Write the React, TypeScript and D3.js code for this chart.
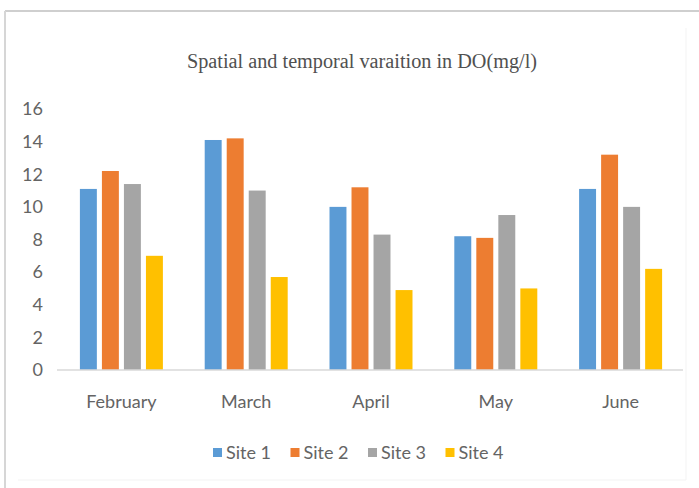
import React from "react";
import * as d3 from "d3";

// Dissolved oxygen (mg/l) per month and sampling site
const months = ["February", "March", "April", "May", "June"];
const sites = ["Site 1", "Site 2", "Site 3", "Site 4"];
const site1 = [11.1, 14.1, 10.0, 8.2, 11.1];
const site2 = [12.2, 14.2, 11.2, 8.1, 13.2];
const site3 = [11.4, 11.0, 8.3, 9.5, 10.0];
const site4 = [7.0, 5.7, 4.9, 5.0, 6.2];
const yTicks = [0, 2, 4, 6, 8, 10, 12, 14, 16];
const siteColors = ["#5B9BD5", "#ED7D31", "#A5A5A5", "#FFC000"];

const W = 699;
const H = 488;
const plot = { left: 59, right: 683, top: 109, bottom: 370 };
const labelFont = "Lato, 'Open Sans', sans-serif";

export default function App() {
  const series = [site1, site2, site3, site4];

  const x0 = d3
    .scaleBand<string>()
    .domain(months)
    .range([plot.left, plot.right])
    .paddingInner(0.335)
    .paddingOuter(0.1675);

  const x1 = d3
    .scaleBand<string>()
    .domain(sites)
    .range([0, x0.bandwidth()])
    .paddingInner(0.23)
    .paddingOuter(0);

  const y = d3.scaleLinear().domain([0, 16]).range([plot.bottom, plot.top]);

  const legendStart = 213;
  const legendStep = 77.5;

  return (
    <svg
      width={W}
      height={H}
      style={{ position: "absolute", left: 0, top: 0, background: "#fff" }}
    >
      {/* chart frame */}
      <line x1={5} y1={11} x2={W} y2={11} stroke="#cfcfcf" strokeWidth={2} />
      <line x1={5} y1={11} x2={5} y2={H} stroke="#d6d6d6" strokeWidth={2} />
      <line x1={686} y1={28} x2={686} y2={480} stroke="#f3f3f3" strokeWidth={1} />
      <line x1={18} y1={480} x2={686} y2={480} stroke="#f3f3f3" strokeWidth={1} />

      {/* title */}
      <text
        x={362}
        y={68}
        textAnchor="middle"
        fontFamily="'Liberation Serif', 'DejaVu Serif', serif"
        fontSize={20}
        fill="#505050"
        textLength={350}
        lengthAdjust="spacingAndGlyphs"
      >
        Spatial and temporal varaition in DO(mg/l)
      </text>

      {/* y axis labels */}
      {yTicks.map((t) => (
        <text
          key={t}
          x={43}
          y={y(t)}
          dy="0.35em"
          textAnchor="end"
          fontFamily={labelFont}
          fontSize={18}
          fill="#646464"
        >
          {t}
        </text>
      ))}

      {/* bars */}
      {months.map((m, i) => (
        <g key={m} transform={`translate(${x0(m)},0)`}>
          {sites.map((s, j) => (
            <rect
              key={s}
              x={x1(s)}
              y={y(series[j][i])}
              width={x1.bandwidth()}
              height={y(0) - y(series[j][i])}
              fill={siteColors[j]}
            />
          ))}
        </g>
      ))}

      {/* category axis */}
      <line
        x1={plot.left - 2}
        x2={plot.right}
        y1={y(0)}
        y2={y(0)}
        stroke="#d9d9d9"
        strokeWidth={1.5}
      />
      {months.map((m) => (
        <text
          key={m}
          x={(x0(m) as number) + x0.bandwidth() / 2}
          y={408}
          textAnchor="middle"
          fontFamily={labelFont}
          fontSize={18}
          fill="#646464"
        >
          {m}
        </text>
      ))}

      {/* legend */}
      {sites.map((s, j) => (
        <g key={s} transform={`translate(${legendStart + j * legendStep},0)`}>
          <rect x={0} y={448} width={9} height={9} fill={siteColors[j]} />
          <text
            x={13}
            y={459}
            fontFamily={labelFont}
            fontSize={18}
            fill="#646464"
          >
            {s}
          </text>
        </g>
      ))}
    </svg>
  );
}
